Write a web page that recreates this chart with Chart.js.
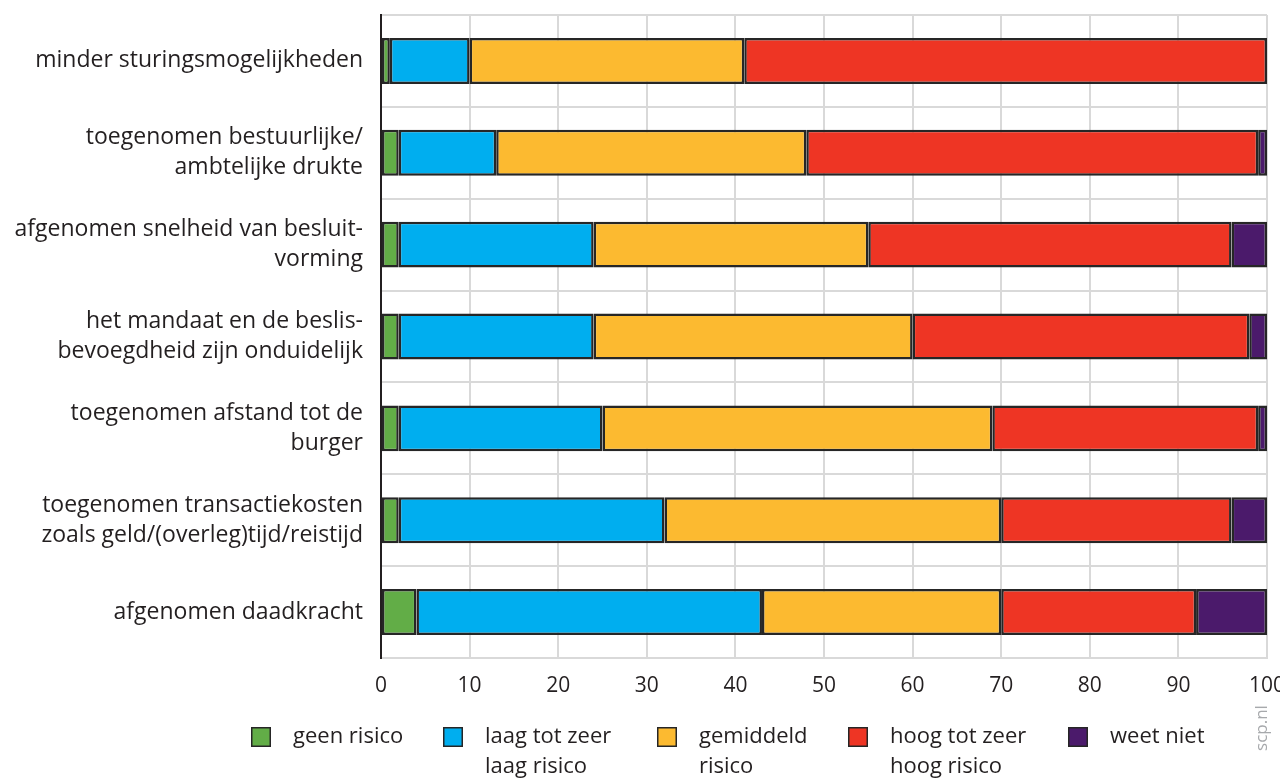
<!DOCTYPE html>
<html>
<head>
<meta charset="utf-8">
<script src="https://cdn.jsdelivr.net/npm/chart.js@4/dist/chart.umd.min.js"></script>
<style>
  html, body { margin: 0; padding: 0; background: #fff; }
  #wrap { width: 1280px; height: 778px; position: relative; }
</style>
</head>
<body>
<div id="wrap"><canvas id="c" width="1280" height="778"></canvas></div>
<script>
// ---- data ----
const categories = [
  ['minder sturingsmogelijkheden'],
  ['toegenomen bestuurlijke/', 'ambtelijke drukte'],
  ['afgenomen snelheid van besluit-', 'vorming'],
  ['het mandaat en de beslis-', 'bevoegdheid zijn onduidelijk'],
  ['toegenomen afstand tot de', 'burger'],
  ['toegenomen transactiekosten', 'zoals geld/(overleg)tijd/reistijd'],
  ['afgenomen daadkracht']
];
const seriesNames = ['geen risico', 'laag tot zeer laag risico', 'gemiddeld risico', 'hoog tot zeer hoog risico', 'weet niet'];
const legendLines = [['geen risico'], ['laag tot zeer', 'laag risico'], ['gemiddeld', 'risico'], ['hoog tot zeer', 'hoog risico'], ['weet niet']];
const geenRisico   = [1, 2, 2, 2, 2, 2, 4];
const laagRisico   = [9, 11, 22, 22, 23, 30, 39];
const gemiddeld    = [31, 35, 31, 36, 44, 38, 27];
const hoogRisico   = [59, 51, 41, 38, 30, 26, 22];
const weetNiet     = [0, 1, 4, 2, 1, 4, 8];
const xTicks = [0, 10, 20, 30, 40, 50, 60, 70, 80, 90, 100];
const colors = ['#62ad47', '#00aeef', '#fcba30', '#ee3524', '#4b1a6b'];

const FONT = "'Open Sans', 'Noto Sans', sans-serif";
const seriesValues = [geenRisico, laagRisico, gemiddeld, hoogRisico, weetNiet];

const datasets = seriesNames.map((name, i) => ({
  label: name,
  data: seriesValues[i],
  backgroundColor: colors[i],
  borderColor: '#262626',
  borderWidth: 2.5,
  borderSkipped: false,
  barPercentage: 0.5,
  categoryPercentage: 1.0
}));

const legendPositions = [251, 443, 657, 848, 1068];

const customLegend = {
  id: 'customLegend',
  afterDraw(chart) {
    const ctx = chart.ctx;
    ctx.save();
    ctx.font = '22px ' + FONT;
    ctx.textBaseline = 'middle';
    ctx.textAlign = 'left';
    legendLines.forEach((lines, i) => {
      const x = legendPositions[i];
      ctx.fillStyle = colors[i];
      ctx.fillRect(x, 727, 20, 20);
      ctx.strokeStyle = '#262626';
      ctx.lineWidth = 1.5;
      ctx.strokeRect(x + 0.75, 727.75, 18.5, 18.5);
      ctx.fillStyle = '#231f20';
      lines.forEach((t, j) => ctx.fillText(t, x + 42, 737 + j * 30));
    });
    // source
    ctx.translate(1262, 728);
    ctx.rotate(-Math.PI / 2);
    ctx.textAlign = 'center';
    ctx.font = '17px ' + FONT;
    ctx.fillStyle = '#a7a9ac';
    ctx.fillText('scp.nl', 0, 0);
    ctx.restore();
  }
};

new Chart(document.getElementById('c'), {
  type: 'bar',
  data: { labels: categories, datasets },
  options: {
    indexAxis: 'y',
    responsive: false,
    animation: false,
    layout: { padding: { top: 15, left: 0, right: 13, bottom: 0 } },
    plugins: { legend: { display: false }, tooltip: { enabled: false } },
    scales: {
      x: {
        stacked: true,
        min: 0, max: 100,
        afterBuildTicks(scale) { scale.ticks = xTicks.map(v => ({ value: v })); },
        afterFit(scale) { scale.height = 120; scale.paddingLeft = 0; scale.paddingRight = 0; },
        grid: {
          color: (c) => (c.tick && c.tick.value === 0) ? 'rgba(0,0,0,0)' : '#d9d9d9',
          lineWidth: 2,
          drawTicks: false
        },
        border: { color: '#d9d9d9', width: 2 },
        ticks: {
          padding: 15,
          color: '#231f20',
          font: { family: FONT, size: 21 },
          maxRotation: 0
        }
      },
      y: {
        stacked: true,
        afterFit(scale) { scale.width = 381; scale.paddingTop = 0; scale.paddingBottom = 0; },
        grid: { color: '#d9d9d9', lineWidth: 2, drawTicks: false, offset: true },
        border: { color: '#231f20', width: 2 },
        ticks: {
          padding: 18,
          color: '#231f20',
          font: { family: FONT, size: 23, lineHeight: '30px' }
        }
      }
    }
  },
  plugins: [customLegend]
});
</script>
</body>
</html>
